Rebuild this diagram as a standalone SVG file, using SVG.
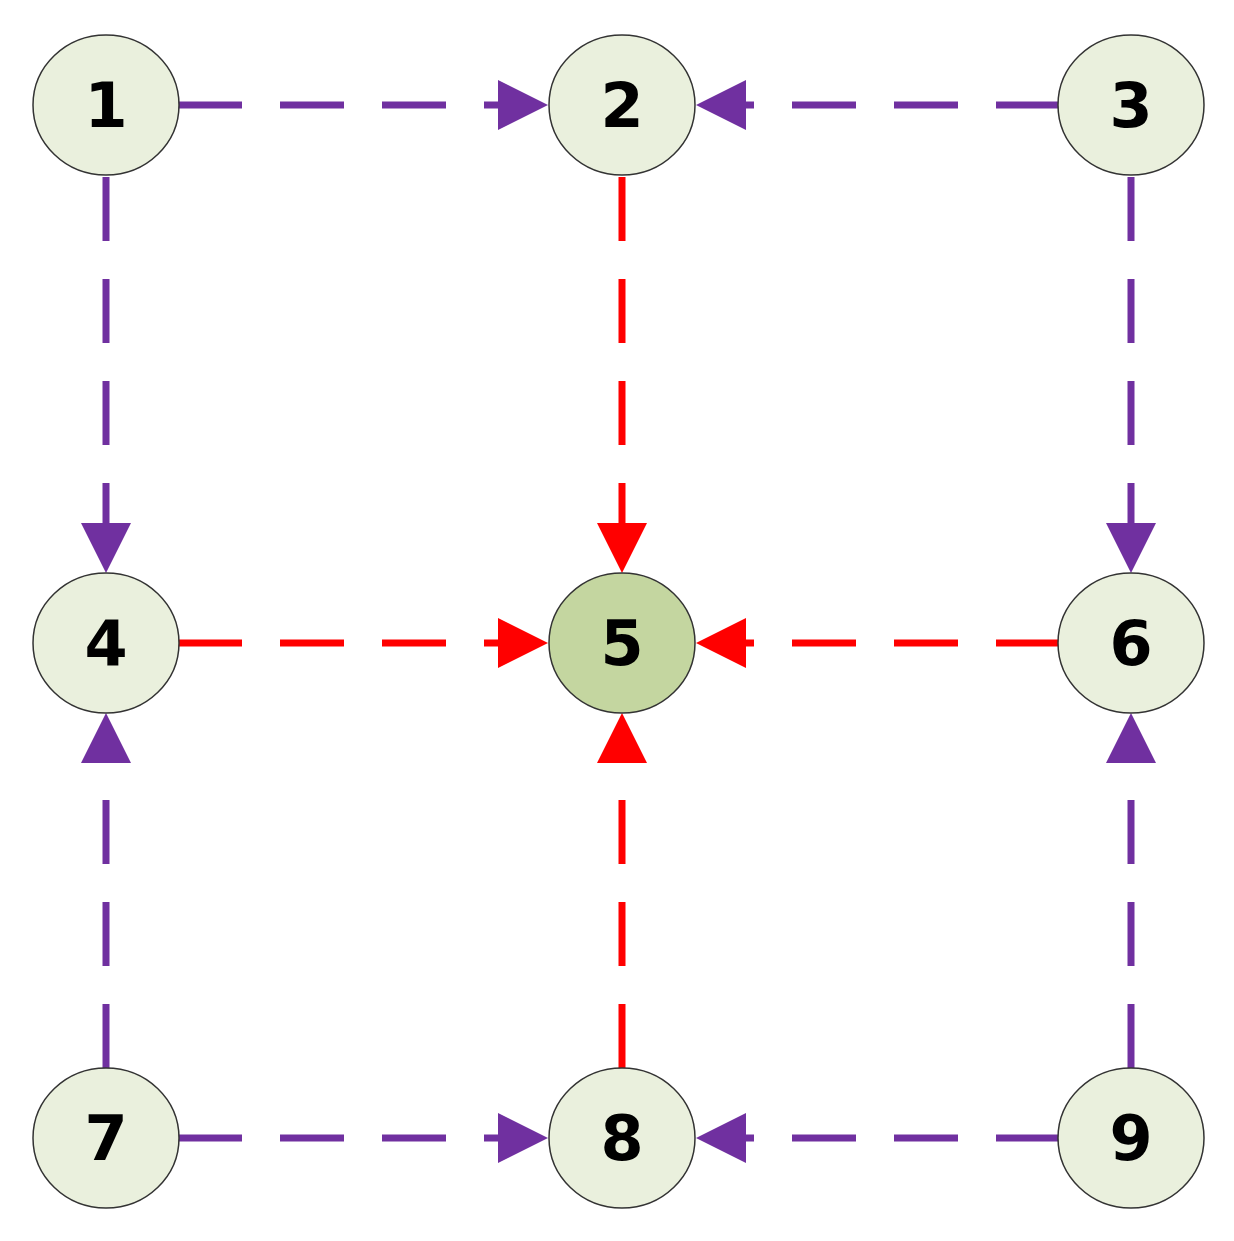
<svg xmlns="http://www.w3.org/2000/svg" width="1234" height="1241" viewBox="0 0 1234 1241">
<style>
.n ellipse{fill:#eaf0dd;stroke:#333;stroke-width:1.5}
.n text{font-family:"DejaVu Sans",sans-serif;font-weight:bold;font-size:62px;text-anchor:middle;fill:#000}
.p{stroke:#7030a0;stroke-width:7;stroke-dasharray:64 38;fill:none}
.r{stroke:#ff0000;stroke-width:7;stroke-dasharray:64 38;fill:none}
</style>
<defs>
<marker id="ap" markerUnits="userSpaceOnUse" markerWidth="52" markerHeight="52" refX="0" refY="25" orient="auto" overflow="visible"><path d="M0,0L50,25L0,50Z" fill="#7030a0"/></marker>
<marker id="ar" markerUnits="userSpaceOnUse" markerWidth="52" markerHeight="52" refX="0" refY="25" orient="auto" overflow="visible"><path d="M0,0L50,25L0,50Z" fill="#ff0000"/></marker>
</defs>
<g id="connectors">
<path class="p" d="M178,105H498" marker-end="url(#ap)"/>
<path class="p" d="M1060,105H746" marker-end="url(#ap)"/>
<path class="p" d="M106,177V523" marker-end="url(#ap)"/>
<path class="p" d="M1131,177V523" marker-end="url(#ap)"/>
<path class="r" d="M622,177V523" marker-end="url(#ar)"/>
<path class="r" d="M178,643H498" marker-end="url(#ar)"/>
<path class="r" d="M1060,643H746" marker-end="url(#ar)"/>
<path class="p" d="M106,1068V763" marker-end="url(#ap)"/>
<path class="r" d="M622,1068V763" marker-end="url(#ar)"/>
<path class="p" d="M1131,1068V763" marker-end="url(#ap)"/>
<path class="p" d="M178,1138H498" marker-end="url(#ap)"/>
<path class="p" d="M1060,1138H746" marker-end="url(#ap)"/>
</g>
<g id="n1" class="n"><ellipse cx="106" cy="105" rx="73" ry="70"/><text x="106" y="127">1</text></g>
<g id="n2" class="n"><ellipse cx="622" cy="105" rx="73" ry="70"/><text x="622" y="127">2</text></g>
<g id="n3" class="n"><ellipse cx="1131" cy="105" rx="73" ry="70"/><text x="1131" y="127">3</text></g>
<g id="n4" class="n"><ellipse cx="106" cy="643" rx="73" ry="70"/><text x="106" y="665">4</text></g>
<g id="n5" class="n"><ellipse cx="622" cy="643" rx="73" ry="70" style="fill:#c4d6a0"/><text x="622" y="665">5</text></g>
<g id="n6" class="n"><ellipse cx="1131" cy="643" rx="73" ry="70"/><text x="1131" y="665">6</text></g>
<g id="n7" class="n"><ellipse cx="106" cy="1138" rx="73" ry="70"/><text x="106" y="1160">7</text></g>
<g id="n8" class="n"><ellipse cx="622" cy="1138" rx="73" ry="70"/><text x="622" y="1160">8</text></g>
<g id="n9" class="n"><ellipse cx="1131" cy="1138" rx="73" ry="70"/><text x="1131" y="1160">9</text></g>
</svg>
